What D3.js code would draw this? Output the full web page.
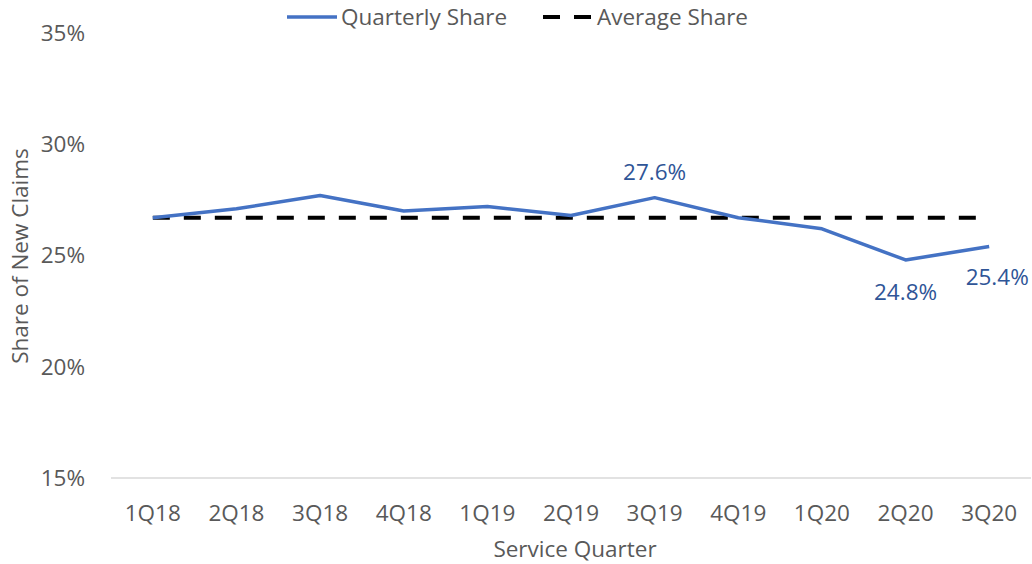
<!DOCTYPE html>
<html>
<head>
<meta charset="utf-8">
<script src="https://cdn.jsdelivr.net/npm/d3@7"></script>
<style>
  body { margin: 0; background: #fff; }
  text { font-family: "Open Sans", sans-serif; }
</style>
</head>
<body>
<script>
const quarters = ["1Q18", "2Q18", "3Q18", "4Q18", "1Q19", "2Q19", "3Q19", "4Q19", "1Q20", "2Q20", "3Q20"];
const quarterlyShare = [26.7, 27.1, 27.7, 27.0, 27.2, 26.8, 27.6, 26.7, 26.2, 24.8, 25.4];
const averageShare = [26.7, 26.7, 26.7, 26.7, 26.7, 26.7, 26.7, 26.7, 26.7, 26.7, 26.7];
const yTicks = [15, 20, 25, 30, 35];
// which points get a value label, and where (above / below)
const labelled = [["3Q19", "above"], ["2Q20", "below"], ["3Q20", "below"]];

const width = 1032, height = 564;
const fs = 22.5;
const grey = "#595959", blue = "#4472C4", labelBlue = "#2F5597";

const svg = d3.select("body").append("svg")
  .attr("width", width)
  .attr("height", height);

const x = d3.scaleBand()
  .domain(quarters)
  .range([111, 1031]);

const y = d3.scaleLinear()
  .domain([15, 35])
  .range([478, 33]);

const cx = (q) => x(q) + x.bandwidth() / 2;

// baseline
svg.append("line")
  .attr("x1", x.range()[0])
  .attr("x2", x.range()[1])
  .attr("y1", y(15))
  .attr("y2", y(15))
  .attr("stroke", "#d9d9d9")
  .attr("stroke-width", 1.3);

// y tick labels
svg.selectAll(".ytick").data(yTicks)
  .enter().append("text")
  .attr("class", "ytick")
  .attr("x", 85)
  .attr("y", (d) => y(d))
  .attr("dy", "0.35em")
  .attr("font-size", fs)
  .style("text-anchor", "end")
  .style("fill", grey)
  .text((d) => d + "%");

// x tick labels
svg.selectAll(".xtick").data(quarters)
  .enter().append("text")
  .attr("class", "xtick")
  .attr("x", (d) => cx(d))
  .attr("y", 513)
  .attr("dy", "0.35em")
  .attr("font-size", fs)
  .style("text-anchor", "middle")
  .style("fill", grey)
  .text((d) => d);

// axis titles
svg.append("text")
  .attr("x", 575)
  .attr("y", 549)
  .attr("dy", "0.35em")
  .attr("font-size", fs)
  .style("text-anchor", "middle")
  .style("fill", grey)
  .text("Service Quarter");

svg.append("text")
  .attr("transform", "translate(20, 256) rotate(-90)")
  .attr("dy", "0.35em")
  .attr("font-size", fs)
  .style("text-anchor", "middle")
  .style("fill", grey)
  .text("Share of New Claims");

// average line
const line = d3.line()
  .x((d, i) => cx(quarters[i]))
  .y((d) => y(d));

svg.append("path")
  .datum(averageShare)
  .attr("d", line)
  .attr("fill", "none")
  .attr("stroke", "#000")
  .attr("stroke-width", 4)
  .attr("stroke-dasharray", "17 14");

svg.append("path")
  .datum(quarterlyShare)
  .attr("d", line)
  .attr("fill", "none")
  .attr("stroke", blue)
  .attr("stroke-width", 3.5)
  .attr("stroke-linejoin", "round");

// value labels
svg.selectAll(".vlabel").data(labelled)
  .enter().append("text")
  .attr("class", "vlabel")
  .attr("x", (d) => cx(d[0]) + (d[0] === "3Q20" ? 8 : 0))
  .attr("y", (d) => {
    const v = quarterlyShare[quarters.indexOf(d[0])];
    if (d[0] === "3Q20") return y(v) + 31;
    return d[1] === "above" ? y(v) - 26 : y(v) + 32;
  })
  .attr("dy", "0.35em")
  .attr("font-size", fs)
  .style("text-anchor", "middle")
  .style("fill", labelBlue)
  .text((d) => quarterlyShare[quarters.indexOf(d[0])].toFixed(1) + "%");

// legend
const legend = svg.append("g");
legend.append("line")
  .attr("x1", 287).attr("x2", 337)
  .attr("y1", 17).attr("y2", 17)
  .attr("stroke", blue)
  .attr("stroke-width", 3.5);
legend.append("text")
  .attr("x", 341).attr("y", 17)
  .attr("dy", "0.35em")
  .attr("font-size", fs)
  .style("fill", grey)
  .text("Quarterly Share");
legend.append("line")
  .attr("x1", 543).attr("x2", 591)
  .attr("y1", 17).attr("y2", 17)
  .attr("stroke", "#000")
  .attr("stroke-width", 4)
  .attr("stroke-dasharray", "17 14");
legend.append("text")
  .attr("x", 597).attr("y", 17)
  .attr("dy", "0.35em")
  .attr("font-size", fs)
  .style("fill", grey)
  .text("Average Share");
</script>
</body>
</html>
